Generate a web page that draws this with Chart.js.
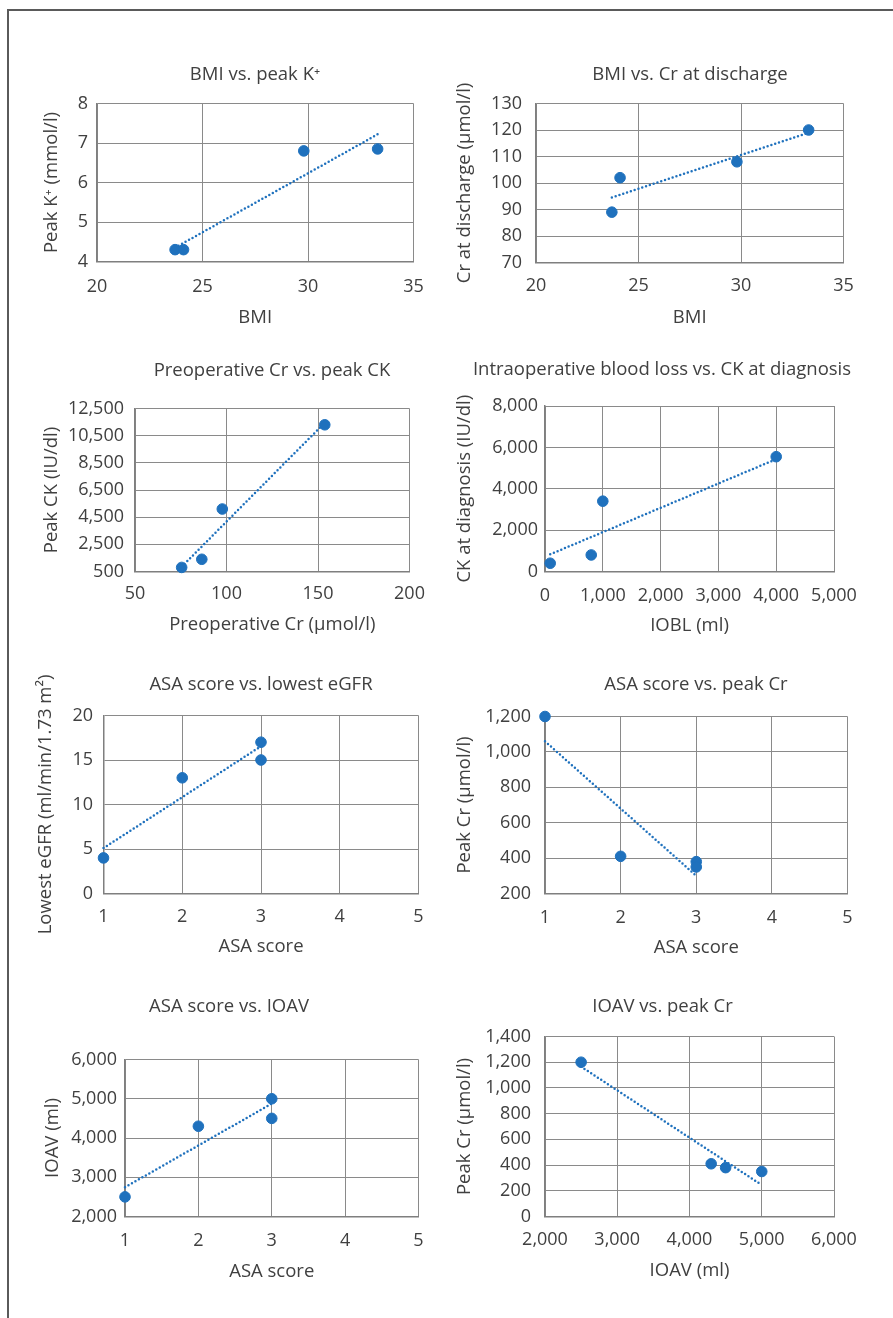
<!DOCTYPE html>
<html>
<head>
<meta charset="utf-8">
<script src="https://cdn.jsdelivr.net/npm/chart.js@4.4.0/dist/chart.umd.min.js"></script>
<style>
body{margin:0;background:#fff;overflow:hidden;width:893px;height:1318px;position:relative;}
.marco{position:absolute;left:7px;top:9px;width:900px;height:1330px;border-top:2px solid #5a5a5a;border-left:2px solid #5a5a5a;}
canvas{position:absolute;}
</style>
</head>
<body>
<div class="marco"></div>
<script>
// valores (4 pacientes)
const bmi = [23.7, 24.1, 29.8, 33.3];
const peakK = [4.3, 4.3, 6.8, 6.85];
const crDischarge = [89, 102, 108, 120];
const preopCr = [75.5, 86.5, 97.7, 153.7];
const peakCK = [800, 1400, 5100, 11300];
const iobl = [90, 800, 1000, 4000];
const ckDiagnosis = [400, 800, 3400, 5550];
const asa = [1, 2, 3, 3];
const lowestEgfr = [4, 13, 15, 17];
const ioav = [2500, 4300, 4500, 5000];
const peakCr = [1200, 410, 380, 350];

// extremos de las lineas de tendencia (y en x minimo y x maximo)
const trendBmiK = [4.35, 7.22];
const trendBmiCr = [94.5, 119];
const trendCrCK = [850, 11450];
const trendIoblCK = [830, 5430];
const trendAsaEgfr = [5.1, 16.55];
const trendAsaCr = [1060, 300];
const trendAsaIoav = [2745, 4875];
const trendIoavCr = [1165, 245];

// rangos de los ejes [min, max, paso]
const rBmi = [20, 35, 5];
const rK = [4, 8, 1];
const rCrDis = [70, 130, 10];
const rPreop = [50, 200, 50];
const rCK = [500, 12500, 2000];
const rIobl = [0, 5000, 1000];
const rCKdiag = [0, 8000, 2000];
const rAsa = [1, 5, 1];
const rEgfr = [0, 20, 5];
const rCrAsa = [200, 1200, 200];
const rIoav = [2000, 6000, 1000];
const rIoavY = [2000, 6000, 1000];
const rCr = [0, 1400, 200];

const azul = '#1f71bd';
const gris = '#8a8a8a';
const colorTexto = '#404040';
const fuente = '"Open Sans", "Noto Sans", sans-serif';

const graficos = [
  {titulo:'BMI vs. peak K⁺', ejeX:'BMI', ejeY:'Peak K⁺ (mmol/l)', x:bmi, y:peakK, tend:trendBmiK, xr:rBmi, yr:rK,
   area:[97,103.5,413.5,261.5], tc:255, ty:75, xty:318, ytx:52, xtk:286.5, ytr:88},
  {titulo:'BMI vs. Cr at discharge', ejeX:'BMI', ejeY:'Cr at discharge (µmol/l)', x:bmi, y:crDischarge, tend:trendBmiCr, xr:rBmi, yr:rCrDis,
   area:[536,103.5,843.5,262.5], tc:690, ty:75, xty:318, ytx:465, xtk:285.7, ytr:522},
  {titulo:'Preoperative Cr vs. peak CK', ejeX:'Preoperative Cr (µmol/l)', ejeY:'Peak CK (IU/dl)', x:preopCr, y:peakCK, tend:trendCrCK, xr:rPreop, yr:rCK,
   area:[135,408.5,409.5,571.5], tc:272, ty:371, xty:625, ytx:51.5, xtk:594, ytr:124},
  {titulo:'Intraoperative blood loss vs. CK at diagnosis', ejeX:'IOBL (ml)', ejeY:'CK at diagnosis (IU/dl)', x:iobl, y:ckDiagnosis, tend:trendIoblCK, xr:rIobl, yr:rCKdiag,
   area:[545,406,834,571.5], tc:662, ty:370, xty:625.5, ytx:465, xtk:595.5, ytr:538},
  {titulo:'ASA score vs. lowest eGFR', ejeX:'ASA score', ejeY:'Lowest eGFR (ml/min/1.73 m²)', x:asa, y:lowestEgfr, tend:trendAsaEgfr, xr:rAsa, yr:rEgfr,
   area:[103.5,715.5,418.5,893.5], tc:261, ty:685, xty:947, ytx:46, xtk:917, ytr:93},
  {titulo:'ASA score vs. peak Cr', ejeX:'ASA score', ejeY:'Peak Cr (µmol/l)', x:asa, y:peakCr, tend:trendAsaCr, xr:rAsa, yr:rCrAsa,
   area:[545,716.5,847.5,893.5], tc:696, ty:685, xty:948, ytx:465, xtk:918, ytr:531},
  {titulo:'ASA score vs. IOAV', ejeX:'ASA score', ejeY:'IOAV (ml)', x:asa, y:ioav, tend:trendAsaIoav, xr:rAsa, yr:rIoavY,
   area:[125,1059.5,418.5,1216.5], tc:229, ty:1007, xty:1272, ytx:53, xtk:1241, ytr:117},
  {titulo:'IOAV vs. peak Cr', ejeX:'IOAV (ml)', ejeY:'Peak Cr (µmol/l)', x:ioav, y:peakCr, tend:trendIoavCr, xr:rIoav, yr:rCr,
   area:[545,1036.5,834,1216.5], tc:662.5, ty:1007, xty:1271, ytx:465, xtk:1239.5, ytr:531}
];

function crearGrafico(g){
  const [L, T, R, B] = g.area;
  const cl = Math.round(g.ytx - 16), ct = Math.round(g.ty - 16);
  const cr = Math.round(R + 50), cb = Math.round(g.xty + 16);

  const cv = document.createElement('canvas');
  cv.width = cr - cl;
  cv.height = cb - ct;
  cv.style.left = cl + 'px';
  cv.style.top = ct + 'px';
  document.body.appendChild(cv);

  // titulo y titulos de ejes
  const textos = {
    id: 'textos',
    afterDraw(chart){
      const ctx = chart.ctx, a = chart.chartArea;
      ctx.save();
      ctx.fillStyle = colorTexto;
      ctx.textAlign = 'center';
      ctx.textBaseline = 'middle';
      ctx.font = '18.5px ' + fuente;
      ctx.fillText(g.titulo, g.tc - cl, g.ty - ct);
      ctx.fillText(g.ejeX, (a.left + a.right) / 2, g.xty - ct);
      ctx.translate(g.ytx - cl, (a.top + a.bottom) / 2);
      ctx.rotate(-Math.PI / 2);
      ctx.fillText(g.ejeY, 0, 0);
      ctx.restore();
    }
  };

  const fontTick = {family: fuente, size: 18, lineHeight: 1.2};

  new Chart(cv, {
    type: 'scatter',
    data: {
      datasets: [
        {
          data: g.x.map((v, i) => ({x: v, y: g.y[i]})),
          backgroundColor: azul, borderColor: azul, borderWidth: 1, pointRadius: 5.3,
          clip: false
        },
        {
          data: [{x: Math.min(...g.x), y: g.tend[0]}, {x: Math.max(...g.x), y: g.tend[1]}],
          showLine: true, pointRadius: 0, borderColor: azul, borderWidth: 2.5,
          borderDash: [0, 4], borderCapStyle: 'round', clip: false
        }
      ]
    },
    options: {
      responsive: false,
      animation: false,
      locale: 'en-US',
      layout: {padding: {left: 0, top: T - ct, right: cr - R, bottom: 0}},
      plugins: {legend: {display: false}, tooltip: {enabled: false}},
      scales: {
        x: {
          type: 'linear', min: g.xr[0], max: g.xr[1],
          grid: {color: gris, lineWidth: 1, drawTicks: false},
          border: {color: '#7f7f7f', width: 1.5},
          ticks: {stepSize: g.xr[2], padding: g.xtk - B - 10.8, font: fontTick, color: colorTexto, maxRotation: 0, autoSkip: false},
          afterFit: s => { s.height = cb - B; }
        },
        y: {
          type: 'linear', min: g.yr[0], max: g.yr[1],
          grid: {color: gris, lineWidth: 1, drawTicks: false},
          border: {color: '#7f7f7f', width: 1.5},
          ticks: {stepSize: g.yr[2], padding: L - g.ytr, font: fontTick, color: colorTexto, autoSkip: false},
          afterFit: s => { s.width = L - cl; }
        }
      }
    },
    plugins: [textos]
  });
}

graficos.forEach(crearGrafico);
</script>
</body>
</html>
